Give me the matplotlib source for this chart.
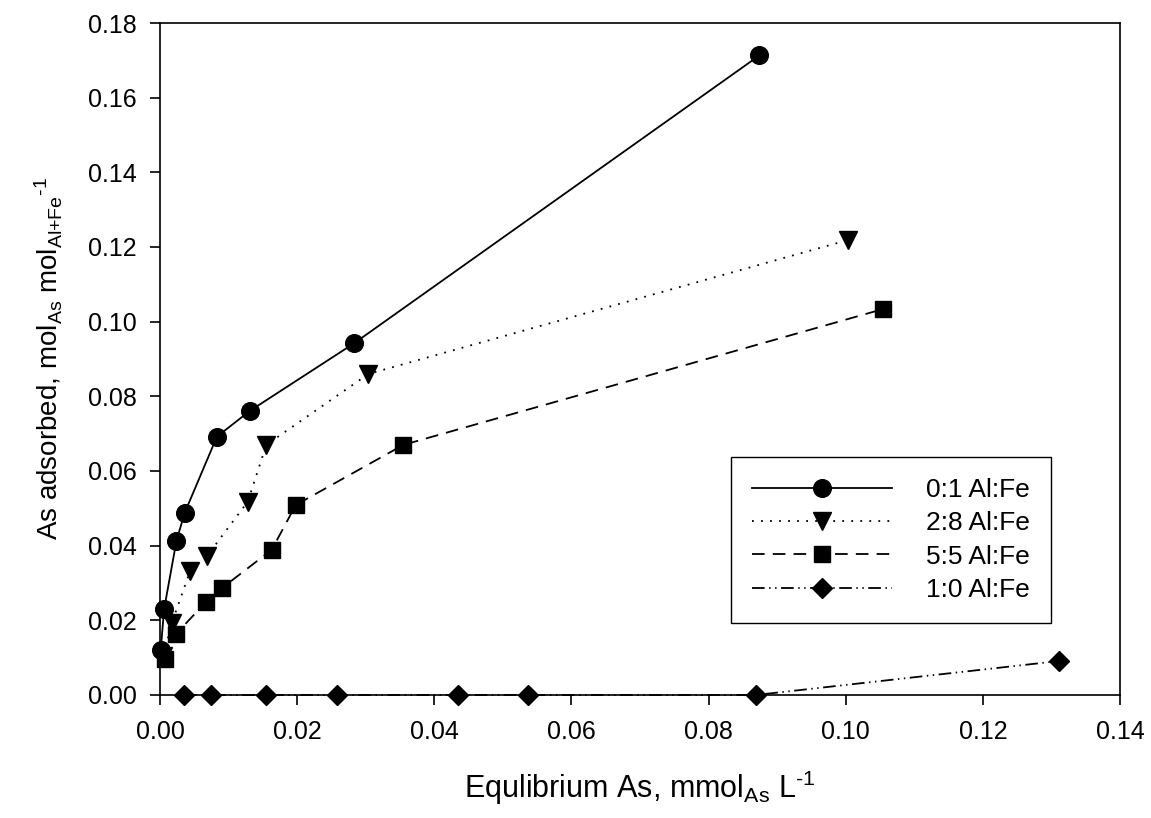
import matplotlib
matplotlib.use("Agg")
import matplotlib.pyplot as plt

plt.rcParams['font.family'] = ['Liberation Sans', 'DejaVu Sans']
plt.rcParams['mathtext.fontset'] = 'custom'
plt.rcParams['mathtext.rm'] = 'Liberation Sans'
plt.rcParams['mathtext.it'] = 'Liberation Sans:italic'
plt.rcParams['mathtext.bf'] = 'Liberation Sans:bold'

# 0:1 Al:Fe
x_01 = [0.0001, 0.0006, 0.0024, 0.0036, 0.0083, 0.0131, 0.0283, 0.0874]
y_01 = [0.0120, 0.0230, 0.0413, 0.0488, 0.0692, 0.0761, 0.0942, 0.1713]
# 2:8 Al:Fe
x_28 = [0.0005, 0.0017, 0.0044, 0.0068, 0.0128, 0.0155, 0.0304, 0.1004]
y_28 = [0.0105, 0.0192, 0.0333, 0.0371, 0.0518, 0.0670, 0.0860, 0.1219]
# 5:5 Al:Fe
x_55 = [0.0007, 0.0023, 0.0067, 0.0090, 0.0163, 0.0198, 0.0355, 0.1055]
y_55 = [0.0096, 0.0163, 0.0249, 0.0286, 0.0389, 0.0509, 0.0670, 0.1034]
# 1:0 Al:Fe
x_10 = [0.0035, 0.0074, 0.0154, 0.0258, 0.0435, 0.0536, 0.0869, 0.1311]
y_10 = [0.0, 0.0, 0.0, 0.0, 0.0, 0.0, 0.0, 0.0091]

labels = ['0:1 Al:Fe', '2:8 Al:Fe', '5:5 Al:Fe', '1:0 Al:Fe']

fig = plt.figure(figsize=(11.51, 8.18), dpi=100)
ax = fig.add_axes([160/1151, 1-695/818, 960/1151, 672/818])

lw = 1.3
ax.plot(x_01, y_01, color='k', lw=lw, ls='-', marker='o', ms=12.7, label=labels[0], clip_on=False, zorder=5)
ax.plot(x_28, y_28, color='k', lw=lw, ls=(0, (1, 4)), marker='v', ms=12.5, label=labels[1], clip_on=False, zorder=4)
ax.plot(x_55, y_55, color='k', lw=lw, ls=(0, (7, 4.5)), marker='s', ms=11.3, label=labels[2], clip_on=False, zorder=4)
ax.plot(x_10, y_10, color='k', lw=lw, ls=(0, (7, 2.5, 0.8, 2.5, 0.8, 2.5)), marker='D', ms=10.5,
        label=labels[3], clip_on=False, zorder=4)

ax.set_xlim(0, 0.14)
ax.set_ylim(0, 0.18)
ax.set_xticks([0.00, 0.02, 0.04, 0.06, 0.08, 0.10, 0.12, 0.14])
ax.set_yticks([0.00, 0.02, 0.04, 0.06, 0.08, 0.10, 0.12, 0.14, 0.16, 0.18])
ax.xaxis.set_major_formatter(matplotlib.ticker.FormatStrFormatter('%.2f'))
ax.yaxis.set_major_formatter(matplotlib.ticker.FormatStrFormatter('%.2f'))
ax.tick_params(direction='out', length=7, width=1.2, labelsize=18, pad=10)
ax.tick_params(axis='x', pad=11)
for s in ax.spines.values():
    s.set_linewidth(1.2)

ax.set_xlabel(r'Equlibrium As, mmol$_{\mathrm{As}}$ L$^{\text{-1}}$', fontsize=22, labelpad=18)
ax.set_ylabel(r'As adsorbed, mol$_{\mathrm{As}}$ mol$_{\mathrm{Al}{+}\mathrm{Fe}}$$^{\text{-1}}$',
              fontsize=20, labelpad=16)

leg = ax.legend(loc='upper left', bbox_to_anchor=(731/1151, 1-457/818), bbox_transform=fig.transFigure,
                fontsize=19, numpoints=1, handlelength=5.3, handletextpad=1.3, labelspacing=0.35,
                borderpad=0.8, borderaxespad=0, fancybox=False, framealpha=1)
leg.get_frame().set_edgecolor('k')
leg.get_frame().set_linewidth(1.0)

fig.savefig('out.png', dpi=100)
